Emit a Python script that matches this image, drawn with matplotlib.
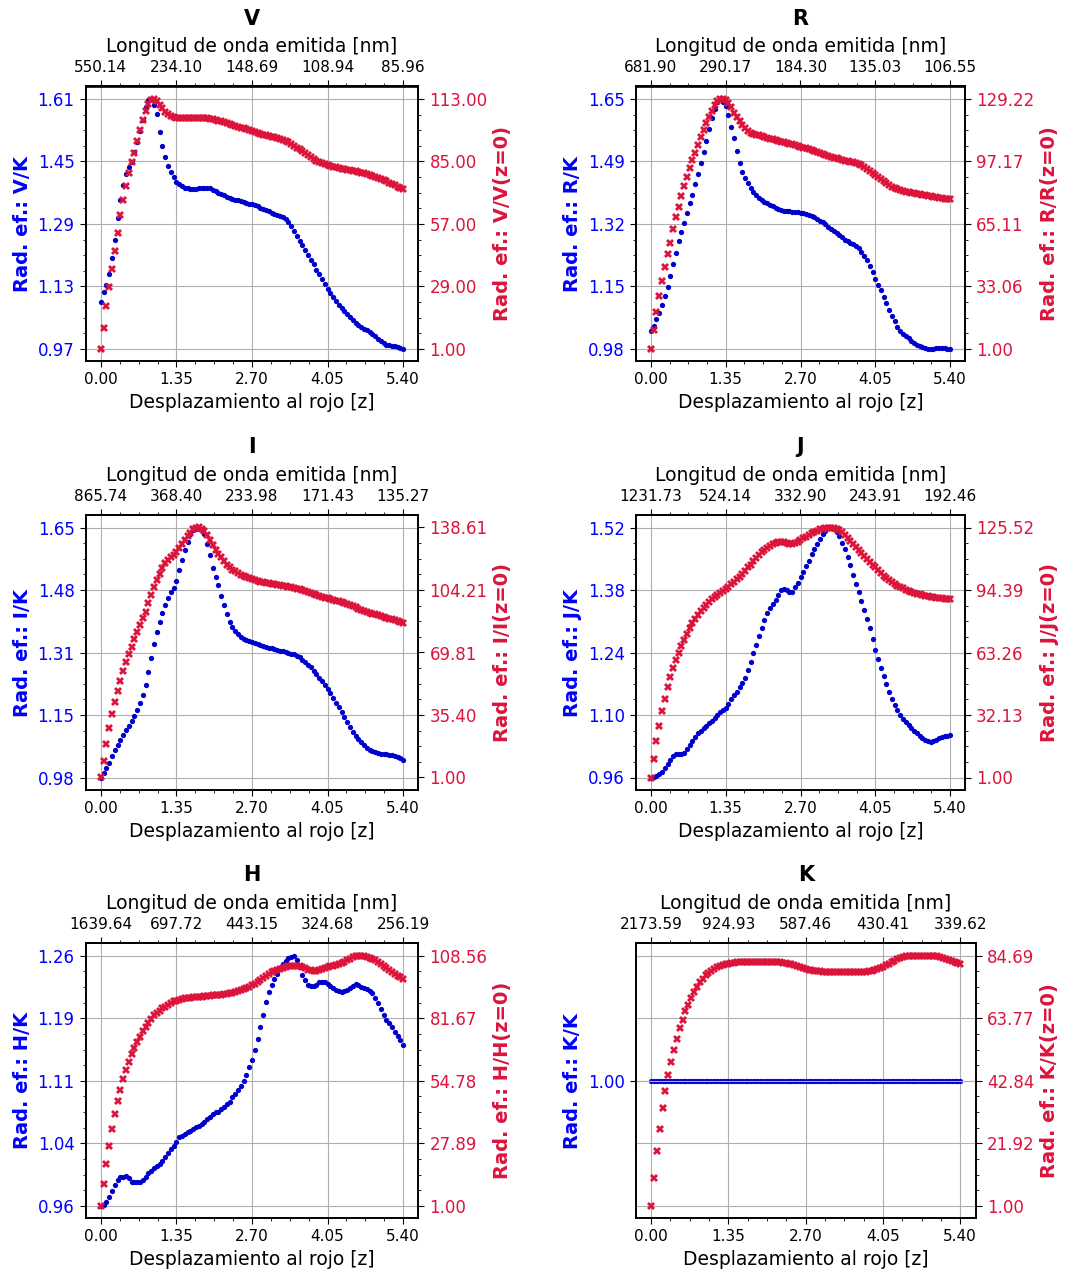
import numpy as np
import matplotlib
matplotlib.use("Agg")
import matplotlib.pyplot as plt

# redshift sampling (step 0.05 from 0 to 5.4)
z = np.round(np.arange(0, 5.4001, 0.05), 2)

bands = ['V', 'R', 'I', 'J', 'H', 'K']
lam0 = [550.14, 681.90, 865.74, 1231.73, 1639.64, 2173.59]   # nm

# blue: effective radiance X/K, red: X/X(z=0)
vb = [1.091, 1.115, 1.134, 1.162, 1.202, 1.249, 1.304, 1.351, 1.389, 1.417,
      1.435, 1.449, 1.473, 1.499, 1.528, 1.556, 1.590, 1.607, 1.610, 1.595,
      1.571, 1.526, 1.490, 1.461, 1.439, 1.422, 1.409, 1.398,
      1.392, 1.387, 1.383, 1.381, 1.380, 1.379, 1.380, 1.381, 1.382, 1.383,
      1.383, 1.381, 1.378, 1.374, 1.370, 1.366, 1.363, 1.360, 1.357, 1.354,
      1.352, 1.350, 1.348, 1.346, 1.344, 1.342, 1.340, 1.338, 1.335, 1.332,
      1.329, 1.326, 1.322, 1.318, 1.315, 1.312, 1.310, 1.308, 1.303, 1.295,
      1.284, 1.272, 1.259, 1.247, 1.235, 1.223, 1.211, 1.198, 1.186, 1.173,
      1.161, 1.148, 1.136, 1.124, 1.113, 1.102, 1.092, 1.083, 1.074, 1.066,
      1.058, 1.051, 1.044, 1.037, 1.031, 1.026, 1.021, 1.017, 1.012, 1.007,
      1.002, 0.996, 0.990, 0.985, 0.981, 0.979, 0.977, 0.976, 0.974, 0.972,
      0.970]
vr = [1.0, 10.3, 20.0, 28.6, 37.0, 45.0, 53.0, 61.0, 67.7, 74.0,
      79.7, 84.6, 89.0, 94.0, 99.0, 103.4, 107.6, 110.8, 112.5, 113.0,
      112.0, 110.5, 108.8, 107.3, 106.2, 105.5, 105.0, 104.7,
      104.6, 104.5, 104.5, 104.5, 104.5, 104.6, 104.6, 104.6, 104.5, 104.4,
      104.3, 104.1, 103.9, 103.6, 103.3, 103.0, 102.6, 102.2, 101.8, 101.4,
      101.0, 100.6, 100.2, 99.8, 99.4, 99.0, 98.6, 98.2, 97.8, 97.4,
      97.0, 96.7, 96.4, 96.1, 95.8, 95.5, 95.2, 94.8, 94.2, 93.5,
      92.8, 92.0, 91.2, 90.4, 89.5, 88.6, 87.7, 86.8, 86.0, 85.2,
      84.6, 84.1, 83.7, 83.3, 82.9, 82.6, 82.3, 82.0, 81.8, 81.5,
      81.3, 81.0, 80.8, 80.5, 80.2, 79.9, 79.6, 79.3, 78.9, 78.5,
      78.1, 77.7, 77.2, 76.7, 76.1, 75.5, 74.9, 74.3, 73.7, 73.2,
      72.7]

rb = [1.029, 1.043, 1.061, 1.079, 1.101, 1.123, 1.149, 1.177, 1.210, 1.241,
      1.272, 1.297, 1.321, 1.346, 1.373, 1.397, 1.424, 1.453, 1.481, 1.511,
      1.542, 1.574, 1.602, 1.627, 1.645, 1.654, 1.645, 1.634, 1.611, 1.580,
      1.549, 1.513, 1.482, 1.458, 1.442, 1.428, 1.415, 1.405, 1.396, 1.389,
      1.383, 1.378, 1.374, 1.369, 1.365, 1.361, 1.358, 1.356, 1.354, 1.353,
      1.352, 1.351, 1.350, 1.349, 1.348, 1.347, 1.345, 1.343, 1.340, 1.337,
      1.332, 1.327, 1.322, 1.317, 1.311, 1.305, 1.299, 1.293, 1.287, 1.282,
      1.276, 1.271, 1.267, 1.263, 1.259, 1.252, 1.243, 1.232, 1.220, 1.205,
      1.188, 1.170, 1.154, 1.139, 1.122, 1.104, 1.086, 1.071, 1.056, 1.042,
      1.031, 1.022, 1.016, 1.010, 1.004, 0.998, 0.993, 0.989, 0.986, 0.983,
      0.982, 0.982, 0.982, 0.983, 0.983, 0.983, 0.983, 0.982, 0.982]
rr = [1.0, 10.4, 19.8, 28.2, 36.0, 43.2, 49.7, 55.2, 62.4, 68.5,
      74.0, 79.5, 84.6, 89.4, 93.7, 97.9, 101.7, 105.6, 109.6, 113.3,
      116.7, 119.8, 123.2, 126.1, 128.4, 129.0, 129.222, 128.7, 127.0, 124.9,
      122.2, 119.8, 118.1, 115.9, 114.2, 112.8, 112.0, 111.4, 110.9, 110.5,
      110.1, 109.7, 109.3, 108.9, 108.5, 108.1, 107.7, 107.3, 106.9, 106.6,
      106.2, 105.9, 105.5, 105.1, 104.7, 104.3, 103.9, 103.4, 102.9, 102.5,
      102.0, 101.5, 101.0, 100.5, 100.0, 99.5, 99.1, 98.7, 98.3, 97.9,
      97.6, 97.3, 97.1, 96.9, 96.6, 96.1, 95.3, 94.4, 93.4, 92.4,
      91.4, 90.4, 89.4, 88.3, 87.2, 86.1, 85.1, 84.2, 83.5, 82.9,
      82.4, 82.0, 81.7, 81.4, 81.1, 80.9, 80.6, 80.3, 80.0, 79.8,
      79.5, 79.3, 79.0, 78.8, 78.5, 78.3, 78.1, 77.9, 77.7]

ib = [0.982, 0.993, 1.007, 1.020, 1.040, 1.055, 1.069, 1.082, 1.096, 1.109,
      1.120, 1.132, 1.145, 1.161, 1.180, 1.201, 1.228, 1.261, 1.299, 1.337,
      1.368, 1.395, 1.418, 1.441, 1.460, 1.474, 1.484, 1.505, 1.532, 1.559,
      1.586, 1.608, 1.628, 1.639, 1.642, 1.646, 1.642, 1.630, 1.603, 1.574,
      1.538, 1.514, 1.492, 1.465, 1.440, 1.416, 1.395, 1.383, 1.371, 1.362,
      1.356, 1.351, 1.347, 1.344, 1.342, 1.340, 1.337, 1.334, 1.332, 1.329,
      1.327, 1.325, 1.323, 1.321, 1.319, 1.317, 1.315, 1.313, 1.311, 1.309,
      1.305, 1.301, 1.295, 1.289, 1.282, 1.275, 1.266, 1.257, 1.247, 1.238,
      1.228, 1.217, 1.206, 1.194, 1.181, 1.168, 1.155, 1.142, 1.129, 1.116,
      1.103, 1.093, 1.083, 1.075, 1.067, 1.061, 1.056, 1.052, 1.049, 1.047,
      1.045, 1.044, 1.044, 1.043, 1.041, 1.039, 1.036, 1.033, 1.029]
ir = [1.0, 10.2, 19.4, 28.0, 35.7, 42.7, 48.6, 54.3, 59.8, 64.4,
      68.8, 73.0, 77.1, 81.3, 84.9, 88.6, 92.3, 96.9, 101.5, 105.7,
      109.8, 113.1, 116.2, 118.9, 120.8, 122.3, 123.5, 125.4, 127.2, 129.6,
      131.8, 134.0, 135.8, 137.7, 138.5, 138.613, 138.0, 136.9, 134.5, 131.8,
      129.1, 126.3, 124.1, 122.1, 119.9, 118.0, 116.6, 115.3, 114.4, 113.4,
      112.5, 111.9, 111.3, 110.7, 110.1, 109.6, 109.2, 108.8, 108.5, 108.2,
      107.9, 107.7, 107.4, 107.1, 106.8, 106.6, 106.3, 106.0, 105.7, 105.3,
      104.9, 104.5, 104.0, 103.5, 103.0, 102.5, 102.0, 101.5, 101.0, 100.5,
      100.0, 99.6, 99.2, 98.8, 98.4, 97.9, 97.4, 96.8, 96.3, 95.7,
      95.2, 94.6, 94.0, 93.3, 92.7, 92.1, 91.6, 91.2, 90.9, 90.5,
      90.1, 89.6, 89.0, 88.5, 88.0, 87.5, 87.0, 86.4, 85.9]

jb = [0.960, 0.9615, 0.964, 0.967, 0.973, 0.982, 0.991, 1.000, 1.009, 1.012,
      1.012, 1.013, 1.016, 1.024, 1.033, 1.042, 1.051, 1.059, 1.065, 1.070,
      1.076, 1.081, 1.087, 1.093, 1.100, 1.106, 1.111, 1.116, 1.125, 1.135,
      1.144, 1.152, 1.162, 1.172, 1.184, 1.201, 1.219, 1.238, 1.257, 1.277,
      1.296, 1.313, 1.328, 1.339, 1.348, 1.358, 1.369, 1.380, 1.383, 1.379,
      1.376, 1.376, 1.386, 1.395, 1.410, 1.421, 1.433, 1.446, 1.460, 1.472,
      1.484, 1.495, 1.505, 1.512, 1.518, 1.520, 1.516, 1.510, 1.502, 1.486,
      1.471, 1.454, 1.435, 1.414, 1.394, 1.375, 1.356, 1.336, 1.316, 1.294,
      1.270, 1.246, 1.225, 1.206, 1.188, 1.169, 1.151, 1.135, 1.122, 1.111,
      1.101, 1.092, 1.084, 1.077, 1.071, 1.065, 1.059, 1.053, 1.048, 1.044,
      1.041, 1.040, 1.042, 1.045, 1.048, 1.050, 1.052, 1.054, 1.055]
jr = [1.0, 10.1, 19.1, 26.9, 34.1, 40.2, 45.9, 51.2, 55.7, 59.5,
      63.2, 66.5, 69.5, 72.5, 75.3, 77.8, 80.0, 82.0, 84.1, 85.6,
      87.1, 88.4, 89.8, 90.8, 91.9, 93.1, 94.1, 95.1, 96.1, 97.4,
      98.6, 99.9, 101.1, 102.4, 103.9, 105.6, 106.9, 108.6, 110.2, 111.9,
      113.2, 114.4, 115.5, 116.4, 117.2, 118.0, 118.5, 118.5, 118.2, 117.7,
      117.4, 117.2, 117.7, 118.5, 119.4, 120.2, 121.0, 121.9, 122.7, 123.4,
      124.0, 124.6, 125.0, 125.3, 125.5, 125.52, 125.3, 124.8, 124.1, 123.1,
      121.9, 120.5, 119.0, 117.5, 116.0, 114.5, 113.0, 111.5, 110.0, 108.5,
      107.0, 105.6, 104.2, 102.9, 101.6, 100.4, 99.3, 98.3, 97.4, 96.6,
      95.9, 95.2, 94.6, 94.0, 93.5, 93.0, 92.6, 92.2, 91.9, 91.6,
      91.3, 91.0, 90.8, 90.6, 90.4, 90.2, 90.0, 89.9, 89.8]

hb = [0.962, 0.963, 0.966, 0.972, 0.980, 0.987, 0.993, 0.996, 0.997, 0.998,
      0.995, 0.991, 0.990, 0.990, 0.991, 0.993, 0.997, 1.001, 1.004, 1.007,
      1.010, 1.012, 1.016, 1.020, 1.025, 1.030, 1.034, 1.039, 1.044, 1.046,
      1.048, 1.050, 1.052, 1.054, 1.056, 1.058, 1.060, 1.063, 1.066, 1.069,
      1.072, 1.074, 1.075, 1.078, 1.081, 1.084, 1.087, 1.092, 1.096, 1.101,
      1.106, 1.112, 1.119, 1.128, 1.137, 1.149, 1.162, 1.176, 1.191, 1.206,
      1.218, 1.227, 1.234, 1.240, 1.247, 1.252, 1.256, 1.259, 1.261, 1.262,
      1.257, 1.249, 1.239, 1.233, 1.227, 1.226, 1.226, 1.227, 1.230, 1.231,
      1.230, 1.228, 1.226, 1.223, 1.221, 1.220, 1.219, 1.220, 1.221, 1.223,
      1.226, 1.228, 1.227, 1.224, 1.223, 1.222, 1.220, 1.217, 1.211, 1.205,
      1.198, 1.191, 1.185, 1.181, 1.177, 1.171, 1.166, 1.161, 1.155]
hr = [1.0, 10.2, 18.8, 26.8, 34.0, 40.3, 46.1, 50.8, 55.6, 59.4,
      63.0, 66.2, 68.8, 71.4, 73.8, 76.0, 78.1, 79.8, 81.4, 82.9,
      83.9, 84.9, 86.0, 86.7, 87.4, 88.2, 88.9, 89.3, 89.7, 90.0,
      90.3, 90.5, 90.6, 90.7, 90.8, 90.9, 91.0, 91.1, 91.2, 91.3,
      91.5, 91.6, 91.8, 91.9, 92.1, 92.3, 92.5, 92.7, 93.0, 93.3,
      93.7, 94.1, 94.6, 95.2, 95.8, 96.5, 97.3, 98.1, 99.0, 99.9,
      100.7, 101.4, 102.0, 102.5, 103.0, 103.4, 103.7, 104.0, 104.2, 104.3,
      104.3, 104.1, 103.7, 103.1, 102.6, 102.3, 102.1, 102.2, 102.5, 102.9,
      103.3, 103.6, 104.0, 104.3, 104.7, 105.1, 105.6, 106.1, 106.7, 107.3,
      107.9, 108.3, 108.56, 108.5, 108.4, 108.1, 107.8, 107.3, 106.7, 106.0,
      105.2, 104.3, 103.4, 102.5, 101.6, 100.8, 100.0, 99.4, 98.7]

kb = np.full(len(z), 1.00)   # K/K is 1 everywhere
kr = [1.0, 10.3, 19.2, 26.8, 33.7, 39.5, 44.9, 49.1, 53.2, 56.9,
      60.5, 63.3, 66.1, 68.3, 70.5, 72.5, 74.2, 75.8, 77.0, 78.1,
      78.9, 79.7, 80.3, 80.8, 81.2, 81.5, 81.8, 82.0, 82.2, 82.4,
      82.5, 82.6, 82.6, 82.6, 82.6, 82.6, 82.6, 82.5, 82.5, 82.5,
      82.5, 82.5, 82.5, 82.5, 82.5, 82.5, 82.4, 82.2, 82.0, 81.8,
      81.6, 81.3, 80.9, 80.6, 80.2, 80.0, 79.8, 79.7, 79.6, 79.5,
      79.4, 79.4, 79.3, 79.3, 79.2, 79.2, 79.2, 79.2, 79.2, 79.2,
      79.2, 79.2, 79.2, 79.3, 79.3, 79.4, 79.5, 79.7, 79.9, 80.2,
      80.5, 81.0, 81.5, 82.0, 82.5, 83.0, 83.5, 84.0, 84.3, 84.5,
      84.65, 84.68, 84.68, 84.688, 84.68, 84.68, 84.68, 84.68, 84.65, 84.6,
      84.5, 84.3, 84.0, 83.7, 83.3, 82.9, 82.6, 82.2, 81.9]

blue_series = [vb, rb, ib, jb, hb, kb]
red_series = [vr, rr, ir, jr, hr, kr]

# axes boxes in pixels (left, top, right, bottom)
boxes = [(85.7, 86.5, 418.3, 361.3), (636.0, 86.5, 965.0, 361.3),
         (85.7, 515.0, 418.3, 790.0), (636.0, 515.0, 965.0, 790.0),
         (85.7, 943.3, 418.3, 1218.3), (635.7, 943.3, 975.7, 1218.3)]

plt.rcParams['axes.linewidth'] = 1.2
plt.rcParams['xtick.major.size'] = 4.5
plt.rcParams['ytick.major.size'] = 4.5
plt.rcParams['xtick.minor.size'] = 2.5
plt.rcParams['ytick.minor.size'] = 2.5

W, H = 1087, 1273
fig = plt.figure(figsize=(W / 100, H / 100), dpi=100)

XTICK = 11
YTICK = 12
LAB = 13.5
YLAB = 14
zt = np.linspace(0, 5.4, 5)
zmin = np.linspace(0, 5.4, 17)

for band, l0, blue, red, box in zip(bands, lam0, blue_series, red_series, boxes):
    l, t, r, b = box
    ax = fig.add_axes([l / W, 1 - b / H, (r - l) / W, (b - t) / H])
    ax.plot(z, blue, 'o', ms=3.8, mew=0, color='mediumblue')
    ax2 = ax.twinx()
    ax2.plot(z, red, 'X', ms=5.5, mew=0, color='crimson')

    ax.set_xticks(zt, [f'{v:.2f}' for v in zt])
    ax.set_xticks(zmin, minor=True)
    ax.set_xlabel('Desplazamiento al rojo [z]', fontsize=LAB)
    ax.tick_params(axis='x', labelsize=XTICK)

    lo, hi = min(blue), max(blue)
    yt = np.unique(np.linspace(lo, hi, 5))
    ax.set_yticks(yt, [f'{v:.2f}' for v in yt])
    ax.set_yticks(np.linspace(lo, hi, 17), minor=True)
    ax.set_ylabel(f'Rad. ef.: {band}/K', color='blue', fontweight='bold', fontsize=YLAB)
    ax.tick_params(axis='y', labelcolor='blue', labelsize=YTICK)
    ax.grid(True)

    lo2, hi2 = min(red), max(red)
    yt2 = np.linspace(lo2, hi2, 5)
    ax2.set_yticks(yt2, [f'{v:.2f}' for v in yt2])
    ax2.set_yticks(np.linspace(lo2, hi2, 17), minor=True)
    ax2.set_ylabel(f'Rad. ef.: {band}/{band}(z=0)', color='crimson',
                   fontweight='bold', fontsize=YLAB)
    ax2.tick_params(axis='y', labelcolor='crimson', labelsize=YTICK)
    if lo == hi:
        # left axis collapses to one tick, so use the right one for the grid
        ax2.grid(True, axis='y')

    top = ax.secondary_xaxis('top', functions=(lambda x: x, lambda x: x))
    top.set_ticks(zt, labels=[f'{l0 / (1 + v):.2f}' for v in zt])
    top.set_ticks(zmin, minor=True)
    top.tick_params(labelsize=XTICK)
    top.set_xlabel('Longitud de onda emitida [nm]', fontsize=LAB, labelpad=6)

    ax.set_title(band, fontweight='bold', fontsize=15, pad=9)

fig.savefig('out.png', dpi=100)
